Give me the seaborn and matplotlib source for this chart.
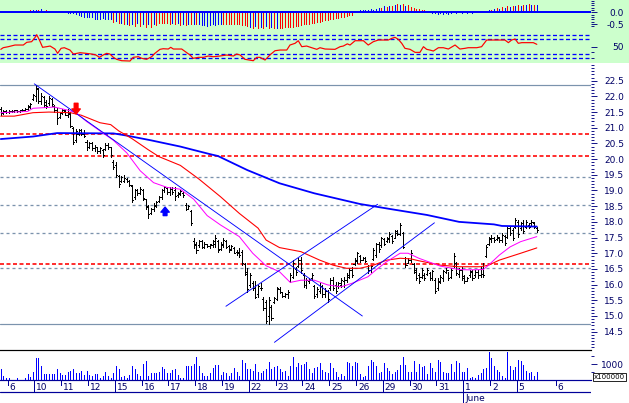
import numpy as np
import matplotlib
matplotlib.use("Agg")
import matplotlib.pyplot as plt
import seaborn as sns
from matplotlib.ticker import FixedLocator, FuncFormatter

sns.set_theme(style="white")
plt.rcParams["font.family"] = ["DejaVu Sans"]
plt.rcParams["lines.scale_dashes"] = False

# ---------------- data ----------------
# OHLC (one bar per index, 10 bars per trading day)
high = [21.65,21.55,21.58,21.55,21.56,21.58,21.55,21.57,21.60,21.62,21.72,21.78,
        22.08,22.35,22.28,22.12,22.02,21.88,22.00,21.95,
        21.72,21.62,21.50,21.60,21.55,21.60,21.50,21.02,20.95,20.97,20.97,20.92,
        20.60,20.55,20.55,20.45,20.40,20.40,20.32,20.50,20.50,20.40,
        19.96,19.90,19.48,19.45,19.50,19.40,19.35,19.17,
        19.06,19.06,19.10,19.06,18.74,18.53,18.43,18.60,18.67,18.83,
        19.06,19.14,19.10,19.10,19.10,19.10,18.96,19.02,18.95,18.60,18.55,18.38,
        17.47,17.37,17.42,17.42,17.37,17.31,17.31,17.42,17.58,17.42,17.37,17.47,17.42,17.26,17.26,17.21,17.10,17.16,
        17.10,16.68,16.52,16.36,16.10,16.10,15.99,16.04,15.62,15.51,15.62,15.35,
        15.62,15.93,15.93,15.77,15.72,15.83,16.36,16.78,16.57,16.84,16.89,
        16.36,16.20,16.20,16.36,15.99,15.93,16.04,15.99,15.88,15.83,
        16.20,16.25,16.09,16.09,16.20,16.25,16.36,16.52,16.57,16.84,17.05,
        16.94,16.89,16.89,16.63,16.63,17.16,17.32,17.37,17.53,17.48,17.53,17.69,17.58,17.74,17.74,17.95,17.69,
        16.89,16.84,17.10,16.68,16.52,16.36,16.52,16.36,16.52,16.41,16.47,16.20,16.20,16.31,
        16.47,16.52,16.41,16.52,17.00,16.73,16.52,16.57,16.31,16.25,16.47,16.47,16.47,16.47,16.57,16.68,
        17.26,17.53,17.58,17.53,17.58,17.53,17.63,17.58,17.85,17.85,17.79,18.11,18.06,18.00,18.06,18.06,17.95,18.06,18.00,17.85]
low = [21.40,21.45,21.47,21.48,21.50,21.50,21.50,21.50,21.52,21.55,21.58,21.62,
       21.90,21.86,21.80,21.76,21.66,21.62,21.74,21.70,
       21.50,21.13,21.30,21.45,21.40,21.35,21.02,20.49,20.55,20.76,20.76,20.72,
       20.28,20.35,20.30,20.25,20.20,20.20,20.08,20.30,20.33,20.08,
       19.70,19.43,19.11,19.26,19.26,19.26,19.14,18.63,
       18.74,18.85,18.90,18.70,18.42,18.12,18.24,18.35,18.46,18.62,
       18.74,18.96,18.90,18.85,18.90,18.70,18.80,18.86,18.80,18.38,18.40,17.90,
       17.16,17.00,17.21,17.16,17.16,17.21,17.16,17.21,17.21,17.05,17.10,17.21,17.16,17.05,17.10,17.00,16.94,16.89,
       16.62,16.31,15.77,15.93,15.83,15.56,15.62,15.83,15.19,14.77,14.73,14.87,
       15.40,15.51,15.72,15.62,15.62,15.56,16.09,16.20,16.31,16.57,16.36,
       15.93,15.88,16.04,16.15,15.56,15.62,15.72,15.62,15.62,15.45,
       15.83,15.83,15.72,15.88,15.93,15.93,16.09,16.20,16.25,16.62,16.68,
       16.73,16.78,16.73,16.36,16.41,16.78,16.89,17.05,17.21,17.26,17.37,17.37,17.32,17.48,17.58,17.58,17.16,
       16.57,16.68,16.73,16.36,16.15,16.04,16.20,16.15,16.31,16.15,16.15,15.72,15.83,16.04,
       16.10,16.36,16.15,16.20,16.57,16.31,16.25,16.15,16.04,16.10,16.25,16.15,16.25,16.20,16.25,16.25,
       16.89,17.26,17.37,17.37,17.42,17.37,17.37,17.26,17.48,17.58,17.42,17.79,17.53,17.74,17.64,17.79,17.79,17.90,17.79,17.69]
opn = [21.60,21.48,21.52,21.50,21.53,21.52,21.55,21.52,21.55,21.57,21.60,21.66,
       21.92,22.02,22.25,21.85,21.98,21.82,21.78,21.92,
       21.70,21.55,21.35,21.48,21.52,21.42,21.45,20.98,20.60,20.80,20.92,20.80,
       20.55,20.40,20.50,20.35,20.38,20.25,20.30,20.32,20.45,20.38,
       19.92,19.80,19.45,19.30,19.30,19.38,19.30,19.15,
       18.78,19.00,18.92,19.02,18.72,18.50,18.28,18.40,18.50,18.65,
       18.80,19.00,19.08,18.95,19.05,19.00,18.85,18.90,18.92,18.55,18.42,18.35,
       17.40,17.30,17.25,17.38,17.20,17.28,17.22,17.25,17.30,17.40,17.15,17.25,17.40,17.22,17.15,17.18,17.05,17.05,
       17.05,16.65,16.40,16.00,16.05,15.90,15.70,15.90,15.55,15.45,15.00,15.30,
       15.45,15.55,15.85,15.75,15.65,15.70,16.12,16.25,16.50,16.60,16.80,
       16.30,16.00,16.10,16.20,15.95,15.70,15.80,15.95,15.70,15.80,
       15.90,16.15,16.00,15.95,16.00,16.10,16.15,16.25,16.45,16.65,16.75,
       16.90,16.80,16.85,16.60,16.45,16.82,16.95,17.30,17.25,17.45,17.40,17.45,17.55,17.50,17.65,17.62,17.65,
       16.85,16.70,16.78,16.65,16.45,16.30,16.25,16.32,16.35,16.38,16.20,16.15,15.90,16.08,
       16.20,16.40,16.45,16.25,16.60,16.68,16.35,16.45,16.28,16.12,16.30,16.40,16.30,16.40,16.30,16.35,
       16.92,17.30,17.45,17.50,17.45,17.50,17.42,17.55,17.52,17.80,17.75,17.85,18.00,17.80,17.95,17.85,17.90,17.95,17.95,17.82]
close = [21.47,21.52,21.50,21.53,21.52,21.55,21.52,21.55,21.57,21.60,21.68,21.75,
         22.05,22.28,21.85,22.00,21.72,21.70,21.95,21.75,
         21.55,21.30,21.48,21.55,21.42,21.48,21.05,20.55,20.90,20.92,20.80,20.75,
         20.38,20.50,20.35,20.40,20.25,20.35,20.12,20.45,20.38,20.12,
         19.75,19.48,19.20,19.42,19.40,19.30,19.18,18.70,
         19.00,18.92,19.05,18.75,18.48,18.25,18.40,18.55,18.62,18.80,
         19.02,19.10,18.95,19.05,18.95,18.82,18.92,18.98,18.85,18.42,18.50,17.95,
         17.25,17.10,17.38,17.20,17.30,17.24,17.28,17.38,17.50,17.10,17.30,17.42,17.20,17.10,17.22,17.02,17.00,16.95,
         16.70,16.35,15.85,16.30,15.90,15.62,15.95,15.88,15.25,14.85,15.50,14.95,
         15.58,15.90,15.75,15.65,15.70,15.78,16.30,16.70,16.40,16.80,16.45,
         16.00,16.15,16.15,16.30,15.65,15.85,15.95,15.70,15.80,15.55,
         16.15,15.90,15.80,16.05,16.15,16.00,16.30,16.48,16.30,16.80,17.00,
         16.80,16.85,16.75,16.45,16.58,17.10,17.28,17.12,17.48,17.30,17.50,17.60,17.40,17.70,17.62,17.90,17.20,
         16.62,16.80,17.02,16.40,16.20,16.10,16.45,16.20,16.48,16.20,16.42,15.80,16.12,16.25,
         16.42,16.45,16.22,16.48,16.90,16.38,16.45,16.22,16.10,16.20,16.42,16.22,16.40,16.30,16.50,16.30,
         17.20,17.50,17.50,17.42,17.52,17.42,17.58,17.32,17.80,17.65,17.50,18.05,17.60,17.95,17.70,18.00,17.85,18.00,17.85,17.75]

volume = [700,250,110,
          150,0,0,110,0,0,110,360,210,490,
          1420,1420,910,360,360,360,360,360,700,420,
          320,320,530,570,700,420,420,570,320,570,
          320,280,360,360,150,280,530,280,150,445,
          890,700,210,280,150,320,890,700,360,280,
          1020,1210,280,420,420,420,530,810,700,420,
          420,640,700,320,150,150,890,890,890,1000,
          1440,890,420,250,250,420,740,950,950,320,
          530,420,250,420,740,530,280,1270,1060,700,
          700,570,1000,530,420,570,700,1170,700,800,
          890,700,530,570,250,890,1480,850,1060,950,
          1000,1120,700,420,740,810,1060,640,530,420,
          1060,780,530,170,360,250,1120,1060,910,1170,
          1060,360,170,250,910,1270,1170,910,420,530,
          1060,740,570,380,530,640,950,1480,950,530,
          530,1210,530,1020,850,910,360,1060,740,530,
          1270,1120,530,420,420,1000,530,1230,1060,530,
          530,740,110,170,150,320,420,680,740,1800,
          1420,910,640,490,280,150,1800,910,640,850,
          1270,1210,950,590,420,530,280,530]

macd = [0.07,0.06,0.07,0.05,0.06,0.05,0.06,0.05,0.06,0.07,0.07,0.08,
        0.08,0.09,0.10,0.14,0.07,0.08,0.07,0.07,0.06,0.05,0.05,
        0.02,0.01,-0.01,-0.03,
        -0.05,-0.08,-0.11,-0.15,-0.18,-0.20,-0.20,-0.22,-0.27,-0.30,-0.28,-0.25,-0.27,-0.27,-0.30,
        -0.42,-0.38,-0.47,-0.45,-0.50,-0.48,-0.55,-0.50,-0.58,-0.45,-0.60,-0.50,-0.63,-0.48,-0.62,-0.50,-0.55,
        -0.45,-0.47,-0.45,-0.47,
        -0.50,-0.46,-0.52,-0.47,-0.55,-0.50,-0.55,-0.48,-0.52,-0.50,-0.50,
        -0.52,-0.55,-0.55,-0.57,-0.55,-0.52,-0.55,-0.52,-0.50,
        -0.50,-0.52,-0.50,-0.48,-0.50,-0.50,-0.52,-0.55,-0.55,-0.58,
        -0.62,-0.65,-0.60,-0.65,-0.62,-0.66,-0.60,-0.65,-0.62,-0.66,-0.65,
        -0.65,-0.65,-0.64,-0.63,-0.62,-0.62,-0.60,-0.58,-0.55,
        -0.52,-0.50,-0.48,-0.46,-0.45,-0.42,-0.40,
        -0.36,-0.34,-0.32,-0.30,-0.28,-0.25,-0.23,-0.20,-0.18,-0.15,-0.12,-0.10,
        0.03,0.06,0.08,0.10,0.09,0.12,0.14,0.12,0.16,
        0.20,0.18,0.25,0.22,0.28,0.26,0.32,0.35,0.30,0.34,0.28,0.30,
        0.22,0.20,0.16,0.14,0.10,0.08,0.05,0.03,
        -0.03,-0.05,-0.06,-0.05,-0.07,-0.04,-0.06,-0.03,
        0.01,-0.02,0.01,-0.02,0.0,-0.02,0.01,-0.01,0.02,0.01,0.0,0.03,0.05,
        0.10,0.12,0.15,0.18,0.16,0.22,0.20,0.25,0.23,0.28,0.25,0.30,0.28,0.32,0.30,0.34,0.30,0.33,0.30]
macd_side = ("rrrrrrrrrrrr" + "bbrbrrrrrrr" + "rrbb" + "b" * 15 + "rbrbrbrbrbrbrbrbr" + "rrrr"
             + "rbrbrbrbrbr" + "b" * 9 + "r" * 10 + "brbrbrbrbrb" + "r" * 9 + "r" * 7 + "r" * 12
             + "b" * 9 + "brbrbrbrbrbr" + "r" * 8 + "b" * 8 + "rbrbrbrbrrrrb" + "brbrbrbrbrbrbrbrbrb")

rsi_x = [0,0.9,2.8,5.3,8.4,9.7,11.5,12.8,13.4,14.4,15.6,17.1,18.4,20.2,21.2,22.5,23.7,25.8,27.1,29.6,
         31.8,33.9,35.5,36.8,38.2,39.5,40.7,42.0,43.2,45.1,48.2,49.4,51.3,52.6,54.4,56.3,57.5,59.4,60.6,62.5,
         63.4,64.4,67.5,69.4,70.6,71.8,73.7,75.6,77.4,79.3,81.8,84.3,86.8,88.0,89.3,91.1,94.2,95.5,96.7,98.6,
         100.4,102.3,104.2,106.7,107.9,109.8,111.0,112.3,114.1,116.0,117.9,119.1,121.0,124.7,126.6,127.8,129.3,
         130.3,132.2,135.3,137.1,139.0,140.9,144.6,145.9,147.1,148.3,149.6,150.8,152.7,154.6,156.4,157.7,158.9,
         160.1,161.4,163.3,165.1,167.0,169.5,171.3,173.2,174.4,177.6,179.4,181.3,188.1,189.4,190.6,191.9,193.1,
         194.4,198.7,200.0]
rsi_v = [43.1,47.3,49.9,54.2,54.2,61.2,62.8,74.0,80.8,67.1,48.3,49.9,51.6,43.9,32.8,45.7,47.3,41.3,31.0,34.4,
         32.8,31.0,28.5,22.5,28.5,32.8,31.0,22.5,17.4,13.8,13.0,22.5,24.1,19.9,17.4,24.1,32.8,43.1,44.7,43.9,
         48.3,43.9,43.9,34.4,28.5,19.9,22.5,22.5,25.9,24.1,25.9,28.5,25.9,31.0,28.5,17.4,13.8,22.5,22.5,15.6,
         28.5,39.5,41.3,41.3,54.2,58.6,65.3,49.9,51.6,47.3,43.1,47.3,43.9,43.1,49.9,51.6,57.2,
         54.2,65.3,65.3,54.2,62.8,67.1,67.1,71.4,74.0,68.9,58.6,45.7,43.1,35.3,35.3,49.9,43.1,
         41.3,38.7,47.3,47.3,43.9,54.2,43.9,45.7,47.3,47.3,49.9,67.1,67.1,60.3,67.1,69.7,58.6,
         60.3,60.3,56.0]
rsi_levels = [80, 70, 30, 20]

ma_long_x = [0,12,21,42,47,56,67,72,78,81,92,104,117,134,146,159,171,184,187,200]
ma_long_v = [20.64,20.72,20.83,20.82,20.75,20.6,20.4,20.29,20.16,20.1,19.65,19.23,18.91,18.57,18.40,18.22,18.0,17.92,17.87,17.85]
ma_mid_x = [0,5,12,18,26,30,37,41,44,49,55,59,67,74,82,89,96,99,104,112,119,124,129,134,139,144,149,153,156,164,171,179,182,186,194,200]
ma_mid_v = [21.37,21.37,21.48,21.5,21.48,21.4,21.16,21.1,20.9,20.65,20.3,20.08,19.8,19.36,18.8,18.27,17.8,17.42,17.18,17.05,
            16.78,16.62,16.52,16.52,16.62,16.78,16.84,16.82,16.76,16.62,16.57,16.57,16.62,16.78,17.0,17.17]
ma_short_x = [0,5,10,12,20,25,28,32,37,42,47,52,57,62,67,72,77,82,89,94,99,104,108,112,117,122,127,131,137,140,
              144,149,152,156,164,171,175,180,182,186,190,194,200]
ma_short_v = [21.48,21.5,21.52,21.62,21.66,21.56,21.48,21.2,20.9,20.6,20.2,19.63,19.25,19.1,19.04,18.72,18.2,17.9,17.53,17.0,
              16.6,16.41,16.07,16.14,16.14,15.99,15.93,16.04,16.25,16.47,16.73,17.0,17.0,16.84,16.59,16.48,16.47,16.48,16.62,16.94,
              17.2,17.37,17.53]

# trend lines (start index, start price), (end index, end price)
trend_down = [(12.5, 22.40), (134.9, 15.00)]
chan_low = [(102.1, 14.16), (161.8, 17.97)]
chan_high = [(84.0, 15.31), (140.6, 18.56)]

fib_solid = [22.35, 14.73]
fib_dashed = [19.44, 18.54, 17.64, 16.53]
support_lines = [20.81, 20.11, 16.67]

sell_signal = (28.1, 21.44)
buy_signal = (61.3, 18.47)

day_labels = ["6", "10", "11", "12", "15", "16", "17", "18", "19", "22", "23", "24", "25", "26",
              "29", "30", "31", "1", "2", "5", "6"]
day_start = [2.5, 12.5, 22.5, 32.5, 42.5, 52.5, 62.5, 72.5, 82.5, 92.5, 102.5, 112.5, 122.5, 132.5,
             142.5, 152.5, 162.5, 172.5, 182.5, 192.5, 207.0]
week_start = ["10", "15", "22", "29", "1", "5"]
month_label = "June"

n = len(close)
assert len(high) == n and len(low) == n and len(opn) == n, (len(high), len(low), len(opn), n)
assert len(volume) == n and len(macd) == n and len(macd_side) == n, (len(volume), len(macd), len(macd_side))
assert len(rsi_x) == len(rsi_v)
idx = np.arange(n)

# ---------------- layout ----------------
W, H, DPI = 629, 403, 100
PX = 72.0 / DPI
fig = plt.figure(figsize=(W / DPI, H / DPI), dpi=DPI)
fig.patch.set_facecolor("white")

def add_px_axes(x0, y0, x1, y1):
    return fig.add_axes([x0 / W, 1 - y1 / H, (x1 - x0) / W, (y1 - y0) / H])

def bare(ax, face="none"):
    ax.set_facecolor(face)
    for s in ax.spines.values():
        s.set_visible(False)
    ax.set_xticks([])
    ax.grid(False)

XL = ((0 - 0.8) / 2.68, (591 - 0.8) / 2.68)
NAVY = "#000080"
LBL = "#000066"
BLUE = "#0000ff"
RED = "#ff0000"
GREY = "#7b93ad"
FS = 6.5
THIN = 0.9 * PX

def right_ticks(ax, major, minor, fmt):
    ax.yaxis.tick_right()
    ax.yaxis.set_major_locator(FixedLocator(major))
    ax.yaxis.set_minor_locator(FixedLocator(minor))
    ax.yaxis.set_major_formatter(FuncFormatter(fmt))
    ax.tick_params(axis="y", which="major", direction="out", length=6 * PX, width=THIN,
                   color=NAVY, pad=27 * PX, labelsize=FS, labelcolor=LBL)
    ax.tick_params(axis="y", which="minor", direction="out", length=3 * PX, width=THIN, color=NAVY)
    for t in ax.get_yticklabels():
        t.set_horizontalalignment("right")

# --- top indicator panel ---
ax_bg = add_px_axes(0, 0, 629, 62.5)
bare(ax_bg, "#ccffcc")
ax_bg.set_yticks([])

ax_m = add_px_axes(0, 0, 591, 62.5)
bare(ax_m)
ax_m.set_xlim(*XL)
ax_m.set_ylim(-2.145, 0.526)
cols = [RED if c == "r" else BLUE for c in macd_side]
ax_m.vlines(idx, 0, macd, colors=cols, linewidth=THIN, antialiased=False, zorder=2)
ax_m.axhline(0, color=BLUE, linewidth=2 * PX, zorder=3)
right_ticks(ax_m, [0.0, -0.5], list(np.arange(-0.6, 0.55, 0.1)), lambda v, p: f"{v:.1f}")

ax_r = add_px_axes(0, 0, 591, 62.5)
bare(ax_r)
ax_r.set_xlim(*XL)
ax_r.set_ylim(9.18, 170.2)
for lv in rsi_levels:
    ax_r.axhline(lv, color=BLUE, linewidth=1.3 * PX, linestyle=(0, (4 * PX, 2.5 * PX)), zorder=2)
sns.lineplot(x=rsi_x, y=rsi_v, ax=ax_r, color=RED, linewidth=1.2 * PX, estimator=None,
             sort=False, legend=False, zorder=3)
ax_r.set_xlabel("")
ax_r.set_ylabel("")
right_ticks(ax_r, [50], [35, 22], lambda v, p: f"{v:.0f}")

# --- main price panel ---
ax_p = add_px_axes(0, 62.5, 591, 350.3)
bare(ax_p)
ax_p.set_xlim(*XL)
ax_p.set_ylim(13.906, 23.08)
for v in fib_solid:
    ax_p.axhline(v, color=GREY, linewidth=1.2 * PX, zorder=1)
for v in fib_dashed:
    ax_p.axhline(v, color=GREY, linewidth=1.3 * PX, linestyle=(0, (3 * PX, 3 * PX)), zorder=1)
for v in support_lines:
    ax_p.axhline(v, color=RED, linewidth=1.6 * PX, linestyle=(0, (4 * PX, 2.5 * PX)), zorder=1)

ax_p.vlines(idx, low, high, colors="black", linewidth=THIN, antialiased=False, zorder=2)
ax_p.hlines(opn, idx - 0.4, idx, colors="black", linewidth=THIN, antialiased=False, zorder=2)
ax_p.hlines(close, idx, idx + 0.4, colors="black", linewidth=THIN, antialiased=False, zorder=2)

sns.lineplot(x=ma_long_x, y=ma_long_v, ax=ax_p, color=BLUE, linewidth=1.8 * PX, estimator=None,
             sort=False, legend=False, zorder=3)
sns.lineplot(x=ma_mid_x, y=ma_mid_v, ax=ax_p, color=RED, linewidth=1.1 * PX, estimator=None,
             sort=False, legend=False, zorder=3)
sns.lineplot(x=ma_short_x, y=ma_short_v, ax=ax_p, color="#ff00ff", linewidth=1.0 * PX, estimator=None,
             sort=False, legend=False, zorder=3)
for ln in (trend_down, chan_low, chan_high):
    ax_p.plot([ln[0][0], ln[1][0]], [ln[0][1], ln[1][1]], color=BLUE, linewidth=0.9 * PX, zorder=4)
ax_p.set_xlabel("")
ax_p.set_ylabel("")

ax_p.annotate("", xy=sell_signal, xytext=(sell_signal[0], sell_signal[1] + 0.34),
              arrowprops=dict(arrowstyle="simple,head_width=1.0,head_length=0.6,tail_width=0.45",
                              color=RED, mutation_scale=6, shrinkA=0, shrinkB=0), zorder=5)
ax_p.annotate("", xy=buy_signal, xytext=(buy_signal[0], buy_signal[1] - 0.27),
              arrowprops=dict(arrowstyle="simple,head_width=1.0,head_length=0.6,tail_width=0.45",
                              color=BLUE, mutation_scale=6, shrinkA=0, shrinkB=0), zorder=5)
right_ticks(ax_p, list(np.arange(14.5, 22.51, 0.5)), list(np.arange(13.9, 23.1, 0.1)),
            lambda v, p: f"{v:.1f}")

# --- volume panel ---
ax_v = add_px_axes(0, 350.3, 591, 380)
bare(ax_v, "white")
ax_v.set_xlim(*XL)
ax_v.set_ylim(0, 1892)
ax_v.spines["top"].set_visible(True)
ax_v.spines["top"].set_color("black")
ax_v.spines["top"].set_linewidth(1.2 * PX)
ax_v.spines["bottom"].set_visible(True)
ax_v.spines["bottom"].set_color("#000099")
ax_v.spines["bottom"].set_linewidth(1.2 * PX)
ax_v.vlines(idx, 0, volume, colors=BLUE, linewidth=THIN, antialiased=False, zorder=2)
right_ticks(ax_v, [1000], [500, 1500], lambda v, p: f"{v:.0f}")
fig.text(594 / W, 1 - 377 / H, "x100000", fontsize=5, color="black", ha="left", va="center",
         bbox=dict(boxstyle="square,pad=0.12", fc="white", ec="black", lw=0.6))

# --- date axis ---
ax_d = add_px_axes(0, 380, 591, 403)
bare(ax_d, "none")
ax_d.set_yticks([])
ax_d.set_xlim(*XL)
ax_d.set_ylim(23, 0)
ax_d.axhline(12.3, color="#000099", linewidth=1.2 * PX)
for lab, s in zip(day_labels, day_start):
    if lab == "1":
        bottom = 23
    elif lab in week_start:
        bottom = 12.3
    else:
        bottom = 4.5
    ax_d.vlines([s], 0, bottom, colors="#000099", linewidth=THIN, antialiased=False)
    ax_d.text(s + 0.75, 7.8, lab, fontsize=FS, color=LBL, ha="left", va="center")
ax_d.text(day_start[day_labels.index("1")] + 0.75, 18.8, month_label, fontsize=FS, color=LBL,
          ha="left", va="center")

fig.savefig("out.png", dpi=DPI)
